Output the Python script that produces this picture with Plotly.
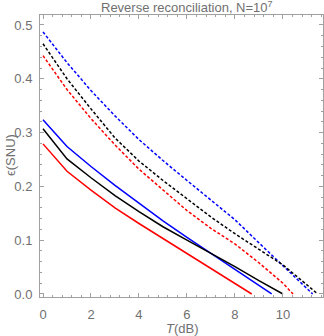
import plotly.graph_objects as go

# Data
x_blue_dash = [0, 1, 2, 3, 4, 5, 6, 7, 8, 9, 10, 11, 11.24]
y_blue_dash = [0.487, 0.430, 0.378, 0.331, 0.287, 0.248, 0.211, 0.175, 0.138, 0.095, 0.052, 0.010, 0.0]

x_black_dash = [0, 1, 2, 3, 4, 5, 6, 7, 8, 9, 10, 11, 11.45]
y_black_dash = [0.465, 0.400, 0.344, 0.290, 0.247, 0.211, 0.177, 0.143, 0.112, 0.083, 0.054, 0.017, 0.0]

x_red_dash = [0, 1, 2, 3, 4, 5, 6, 7, 8, 9, 10, 10.42]
y_red_dash = [0.443, 0.380, 0.326, 0.277, 0.232, 0.193, 0.155, 0.122, 0.093, 0.058, 0.020, 0.0]

x_blue_solid = [0, 1, 2, 3, 4, 5, 6, 7, 8, 9, 9.53]
y_blue_solid = [0.324, 0.274, 0.237, 0.202, 0.169, 0.136, 0.105, 0.075, 0.045, 0.016, 0.0]

x_black_solid = [0, 1, 2, 3, 4, 5, 6, 7, 8, 9, 10.0]
y_black_solid = [0.307, 0.251, 0.216, 0.183, 0.153, 0.125, 0.100, 0.076, 0.051, 0.025, 0.0]

x_red_solid = [0, 1, 2, 3, 4, 5, 6, 7, 8, 8.7]
y_red_solid = [0.279, 0.228, 0.193, 0.160, 0.131, 0.103, 0.075, 0.048, 0.020, 0.0]

x_ticks = [0, 2, 4, 6, 8, 10]
y_ticks = [0.0, 0.1, 0.2, 0.3, 0.4, 0.5]
y_tick_labels = ["0.0", "0.1", "0.2", "0.3", "0.4", "0.5"]

BLUE = "rgb(0,0,255)"
RED = "rgb(255,0,0)"
BLACK = "rgb(0,0,0)"
DASH = "3px,2px"

series = [
    (x_blue_dash, y_blue_dash, BLUE, DASH),
    (x_black_dash, y_black_dash, BLACK, DASH),
    (x_red_dash, y_red_dash, RED, DASH),
    (x_blue_solid, y_blue_solid, BLUE, "solid"),
    (x_black_solid, y_black_solid, BLACK, "solid"),
    (x_red_solid, y_red_solid, RED, "solid"),
]

fig = go.Figure()
for xs, ys, c, d in series:
    fig.add_trace(go.Scatter(x=xs, y=ys, mode="lines",
                             line=dict(color=c, width=1.5, dash=d),
                             showlegend=False, hoverinfo="skip"))

GRID = "#a0a0a0"
TXT = "#707070"
FONT = "Liberation Sans"

# plot area: left 40, right 323, top 15, bottom 297  (height 282, width 283)
fig.update_layout(
    width=324, height=336,
    margin=dict(l=40, r=1, t=15, b=39, autoexpand=False),
    paper_bgcolor="white", plot_bgcolor="white",
    font=dict(family=FONT, size=12, color=TXT),
    xaxis=dict(range=[-0.125, 11.67], tickvals=x_ticks,
               ticks="inside", ticklen=4, tickcolor=GRID,
               showline=True, linecolor=GRID, linewidth=1, mirror="ticks",
               showgrid=False, zeroline=False, automargin=False,
               ticklabelstandoff=5,
               minor=dict(dtick=0.4, tick0=0, ticks="inside", ticklen=2, tickcolor=GRID),
               tickfont=dict(size=13, color=TXT)),
    yaxis=dict(range=[-0.0056, 0.5185], tickvals=y_ticks, ticktext=y_tick_labels,
               ticks="inside", ticklen=4, tickcolor=GRID,
               showline=True, linecolor=GRID, linewidth=1, mirror="ticks",
               showgrid=False, zeroline=False, automargin=False,
               ticklabelstandoff=4,
               minor=dict(dtick=0.02, tick0=0, ticks="inside", ticklen=2, tickcolor=GRID),
               tickfont=dict(size=13, color=TXT)),
    annotations=[
        dict(text="Reverse reconciliation, N=10<sup>7</sup>", xref="paper", yref="paper",
             x=(187 - 40) / 283, y=(297 - 7) / 282, xanchor="center", yanchor="middle",
             showarrow=False, font=dict(size=13, color=TXT, family=FONT)),
        dict(text="<i>T</i>(dB)", xref="paper", yref="paper",
             x=(182 - 40) / 283, y=(297 - 328) / 282, xanchor="center", yanchor="middle",
             showarrow=False, font=dict(size=13, color=TXT, family=FONT)),
        dict(text="ϵ(SNU)", xref="paper", yref="paper", textangle=-90,
             x=(10 - 40) / 283, y=(297 - 155) / 282, xanchor="center", yanchor="middle",
             showarrow=False, font=dict(size=13, color=TXT, family=FONT)),
    ],
)

fig.write_html("out.html",
               config={"displayModeBar": False},
               post_script="document.body.style.margin='0';document.body.style.padding='0';")
